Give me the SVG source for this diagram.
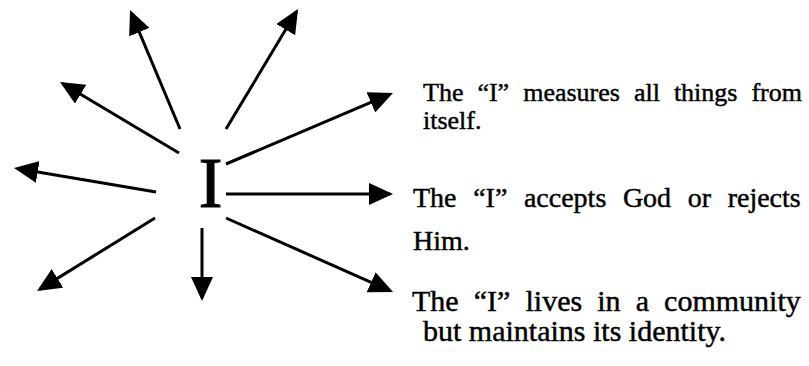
<svg xmlns="http://www.w3.org/2000/svg" width="809" height="366" viewBox="0 0 809 366">
  <style>
    .ray { stroke: #000; stroke-width: 3; fill: none; marker-end: url(#head); }
    .t { font-family: "Liberation Serif", "Times New Roman", serif; fill: #000; stroke: #000; stroke-width: 0.45; }
  </style>
  <defs>
    <marker id="head" markerUnits="userSpaceOnUse" markerWidth="24" markerHeight="22" refX="21" refY="11" orient="auto">
      <path d="M0,0 L24,11 L0,22 Z" fill="#000"/>
    </marker>
  </defs>
  <rect width="809" height="366" fill="#fff"/>
  <g id="center">
    <text class="t" x="210.5" y="207" font-size="71" text-anchor="middle" style="stroke-width:1.2">I</text>
  </g>
  <g id="connectors">
    <line class="ray" x1="180" y1="129" x2="131.2" y2="12.8"/>
    <line class="ray" x1="226" y1="129" x2="296.5" y2="11.6"/>
    <line class="ray" x1="179" y1="153" x2="62.6" y2="83.5"/>
    <line class="ray" x1="226" y1="164" x2="390.2" y2="94.2"/>
    <line class="ray" x1="156" y1="192" x2="17" y2="168.5"/>
    <line class="ray" x1="226" y1="194" x2="390" y2="194"/>
    <line class="ray" x1="155" y1="218" x2="39.6" y2="289.4"/>
    <line class="ray" x1="202" y1="228" x2="202" y2="298"/>
    <line class="ray" x1="226" y1="218" x2="390.3" y2="290.8"/>
  </g>
  <g id="label-measures">
    <text class="t" x="423" y="101" font-size="26" word-spacing="7.5">The “I” measures all things from</text>
    <text class="t" x="423" y="129" font-size="26">itself.</text>
  </g>
  <g id="label-accepts">
    <text class="t" x="413" y="207" font-size="28" word-spacing="9.6">The “I” accepts God or rejects</text>
    <text class="t" x="413" y="250" font-size="28">Him.</text>
  </g>
  <g id="label-community">
    <text class="t" x="412" y="311" font-size="30" word-spacing="7.6">The “I” lives in a community</text>
    <text class="t" x="423" y="341" font-size="30">but maintains its identity.</text>
  </g>
</svg>
